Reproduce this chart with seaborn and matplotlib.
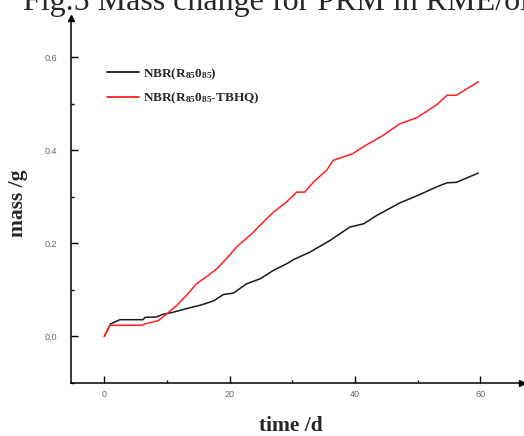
import matplotlib
matplotlib.use("Agg")
import matplotlib.pyplot as plt
import seaborn as sns
import pandas as pd
from matplotlib.ticker import AutoMinorLocator, MultipleLocator

# ---- data ----
t_black = [0, 1.0, 2.5, 6.2, 6.5, 8.4, 9.2, 11.0, 13.2, 15.3, 17.4, 19.0, 20.6,
           22.7, 24.9, 27.0, 29.1, 30.2, 32.8, 36.0, 39.2, 41.4, 43.5, 47.2,
           50.4, 53.0, 54.7, 56.2, 59.7]
m_black = [0, 0.027, 0.036, 0.036, 0.041, 0.042, 0.047, 0.052, 0.060, 0.067,
           0.076, 0.090, 0.093, 0.113, 0.124, 0.142, 0.156, 0.165, 0.181, 0.206,
           0.235, 0.242, 0.260, 0.287, 0.305, 0.321, 0.330, 0.331, 0.351]

t_red = [0, 0.9, 6.0, 6.5, 8.6, 10.0, 11.6, 13.1, 14.7, 16.3, 18.0, 19.5, 21.1,
         23.8, 25.4, 27.0, 29.1, 30.7, 32.0, 33.4, 35.5, 36.5, 39.7, 41.3, 44.5,
         47.2, 49.9, 53.0, 54.7, 56.2, 59.7]
m_red = [0, 0.024, 0.024, 0.027, 0.034, 0.049, 0.067, 0.088, 0.113, 0.128,
         0.146, 0.167, 0.192, 0.224, 0.246, 0.267, 0.289, 0.310, 0.310, 0.332,
         0.357, 0.378, 0.393, 0.407, 0.432, 0.457, 0.470, 0.497, 0.518, 0.518,
         0.547]

label_black = "NBR(R$_{85}$0$_{85}$)"
label_red = "NBR(R$_{85}$0$_{85}$-TBHQ)"
x_ticks = [0, 20, 40, 60]
y_ticks = [0.0, 0.2, 0.4, 0.6]

df = pd.concat([
    pd.DataFrame({"time": t_black, "mass": m_black, "series": label_black}),
    pd.DataFrame({"time": t_red, "mass": m_red, "series": label_red}),
], ignore_index=True)

sns.set_style("ticks")
plt.rcParams["font.family"] = ["Liberation Serif", "DejaVu Serif"]
plt.rcParams["mathtext.fontset"] = "custom"
plt.rcParams["mathtext.rm"] = "Liberation Serif:bold"
plt.rcParams["mathtext.it"] = "Liberation Serif:bold"
plt.rcParams["mathtext.default"] = "rm"

fig = plt.figure(figsize=(5.24, 4.36), dpi=100)
ax = fig.add_axes([70.7 / 524, 53 / 436, 451.3 / 524, 365 / 436])

sns.lineplot(data=df, x="time", y="mass", hue="series", sort=False,
             estimator=None, palette={label_black: "#1a1a1a", label_red: "#ff2020"},
             linewidth=1.1, ax=ax)

ax.set_xlim(-5.36, 66.67)
ax.set_ylim(-0.1, 0.684)
ax.set_xticks(x_ticks)
ax.set_yticks(y_ticks)
ax.set_xticklabels([str(v) for v in x_ticks])
ax.set_yticklabels([f"{v:.1f}" for v in y_ticks])
ax.xaxis.set_minor_locator(MultipleLocator(10))
ax.yaxis.set_minor_locator(MultipleLocator(0.1))
ax.tick_params(which="major", direction="in", length=5, width=1.0,
               labelsize=6.5, labelcolor="#666666", color="black")
ax.tick_params(which="minor", direction="in", length=2.5, width=1.0, color="black")
ax.tick_params(axis="y", which="major", pad=10)
ax.tick_params(axis="x", which="major", pad=5)
for lab in ax.get_xticklabels() + ax.get_yticklabels():
    lab.set_fontfamily(["Liberation Sans", "DejaVu Sans"])

for s in ["top", "right"]:
    ax.spines[s].set_visible(False)
for s in ["left", "bottom"]:
    ax.spines[s].set_linewidth(1.1)
    ax.spines[s].set_color("black")

# axis arrow heads
ax.plot(1, 0, marker=">", color="black", markersize=5, transform=ax.transAxes,
        clip_on=False)
ax.plot(0, 1, marker="^", color="black", markersize=5, transform=ax.transAxes,
        clip_on=False)

ax.set_xlabel("time /d", fontsize=15.5, fontweight="bold")
ax.set_ylabel("mass /g", fontsize=15.5, fontweight="bold")
ax.xaxis.set_label_coords(0.487, -0.09)
ax.yaxis.set_label_coords(-0.095, 0.493)

leg = ax.legend(loc="upper left", bbox_to_anchor=(0.08, 0.868), frameon=False,
                borderaxespad=0, borderpad=0, handlelength=2.42,
                handletextpad=0.3, labelspacing=0.68,
                prop={"family": "Liberation Serif", "weight": "bold", "size": 9.5})
for line in leg.get_lines():
    line.set_linewidth(1.3)

fig.text(23 / 524, 1 - 10 / 436, "Fig.5 Mass change for PRM in RME/oil",
         fontsize=23, va="baseline", ha="left", family="Liberation Serif")

fig.savefig("out.png", dpi=100)
